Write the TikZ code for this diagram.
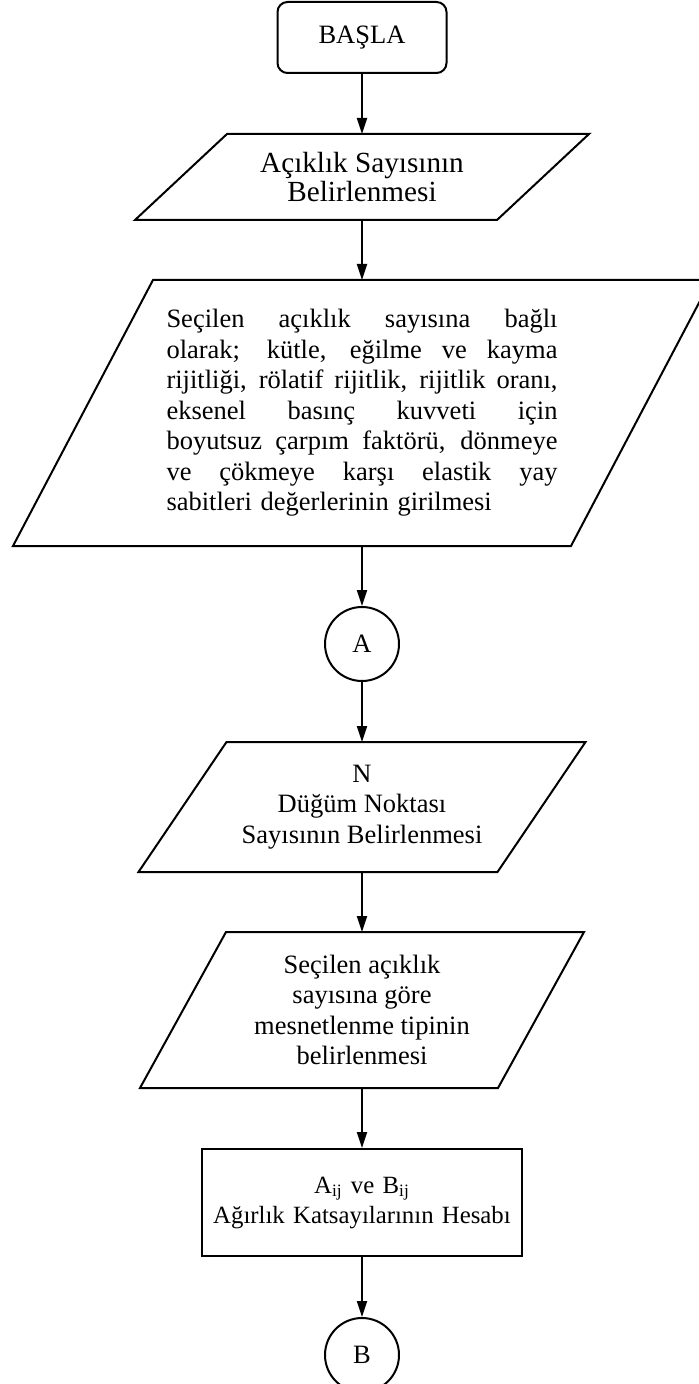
\documentclass[tikz,border=0pt]{standalone}
\usepackage{fontspec}
\setmainfont{Liberation Serif}
\usetikzlibrary{positioning, shapes.geometric, arrows.meta}

% iki yana yaslanmis tek satir
\newcommand{\satir}[1]{\makebox[195.5pt][s]{\spaceskip=.25em plus 1fil\relax #1}}

\tikzset{
    basla/.style={draw, rounded corners=5pt, minimum width=84.5pt, minimum height=35.5pt},
    veri/.style={rectangle, inner sep=0pt, align=center},
    islem/.style={draw, rectangle, inner sep=0pt, text width=160pt, align=center,
        minimum width=160pt, minimum height=53.5pt, font=\fontsize{12.4pt}{15pt}\selectfont},
    baglanti/.style={draw, circle, minimum size=37pt, inner sep=0pt},
    ok/.style={-{Triangle[length=8pt, width=5pt]}}
}

\begin{document}
\begin{tikzpicture}[node distance=30pt, line width=1pt, font=\fontsize{13.25pt}{15.25pt}\selectfont]
    \useasboundingbox (0,0) rectangle (349.5pt,-692pt);

    \node[basla] (basla) at (181pt,-18.75pt) {BAŞLA};
    \node[veri, below = of basla, minimum width=180pt, minimum height=42pt,
        font=\fontsize{14.6pt}{14.75pt}\selectfont] (aciklik) {Açıklık Sayısının\\Belirlenmesi};
    \node[veri, below = of aciklik, minimum width=278pt, minimum height=132pt, text width=195.5pt, align=left] (girdi) {%
        \satir{Seçilen açıklık sayısına bağlı}\\
        \satir{olarak; kütle, eğilme ve kayma}\\
        \satir{rijitliği, rölatif rijitlik, rijitlik oranı,}\\
        \satir{eksenel basınç kuvveti için}\\
        \satir{boyutsuz çarpım faktörü, dönmeye}\\
        \satir{ve çökmeye karşı elastik yay}\\
        sabitleri değerlerinin girilmesi\par\vspace{12pt}};
    \node[baglanti, below = of girdi] (A) {A};
    \node[veri, below = of A, minimum width=178.5pt, minimum height=64pt] (dugum) {N\\Düğüm Noktası\\Sayısının Belirlenmesi};
    \node[veri, below = of dugum, minimum width=178pt, minimum height=77pt] (mesnet) {Seçilen açıklık\\sayısına göre\\mesnetlenme tipinin\\belirlenmesi};
    \node[islem, below = of mesnet] (hesap) {A\textsubscript{ij} ve B\textsubscript{ij}\\Ağırlık Katsayılarının Hesabı\par\vspace{10pt}};
    \node[baglanti, below = of hesap] (B) {B};

    % paralelkenarlar
    \foreach \n/\k in {aciklik/23pt, girdi/35pt, dugum/22pt, mesnet/21.5pt}
        \draw ([xshift=\k]\n.north west) -- ([xshift=\k]\n.north east)
            -- ([xshift=-\k]\n.south east) -- ([xshift=-\k]\n.south west) -- cycle;

    \draw[ok] (basla) -- (aciklik);
    \draw[ok] (aciklik) -- (girdi);
    \draw[ok] (girdi) -- (A);
    \draw[ok] (A) -- (dugum);
    \draw[ok] (dugum) -- (mesnet);
    \draw[ok] (mesnet) -- (hesap);
    \draw[ok] (hesap) -- (B);
\end{tikzpicture}
\end{document}
